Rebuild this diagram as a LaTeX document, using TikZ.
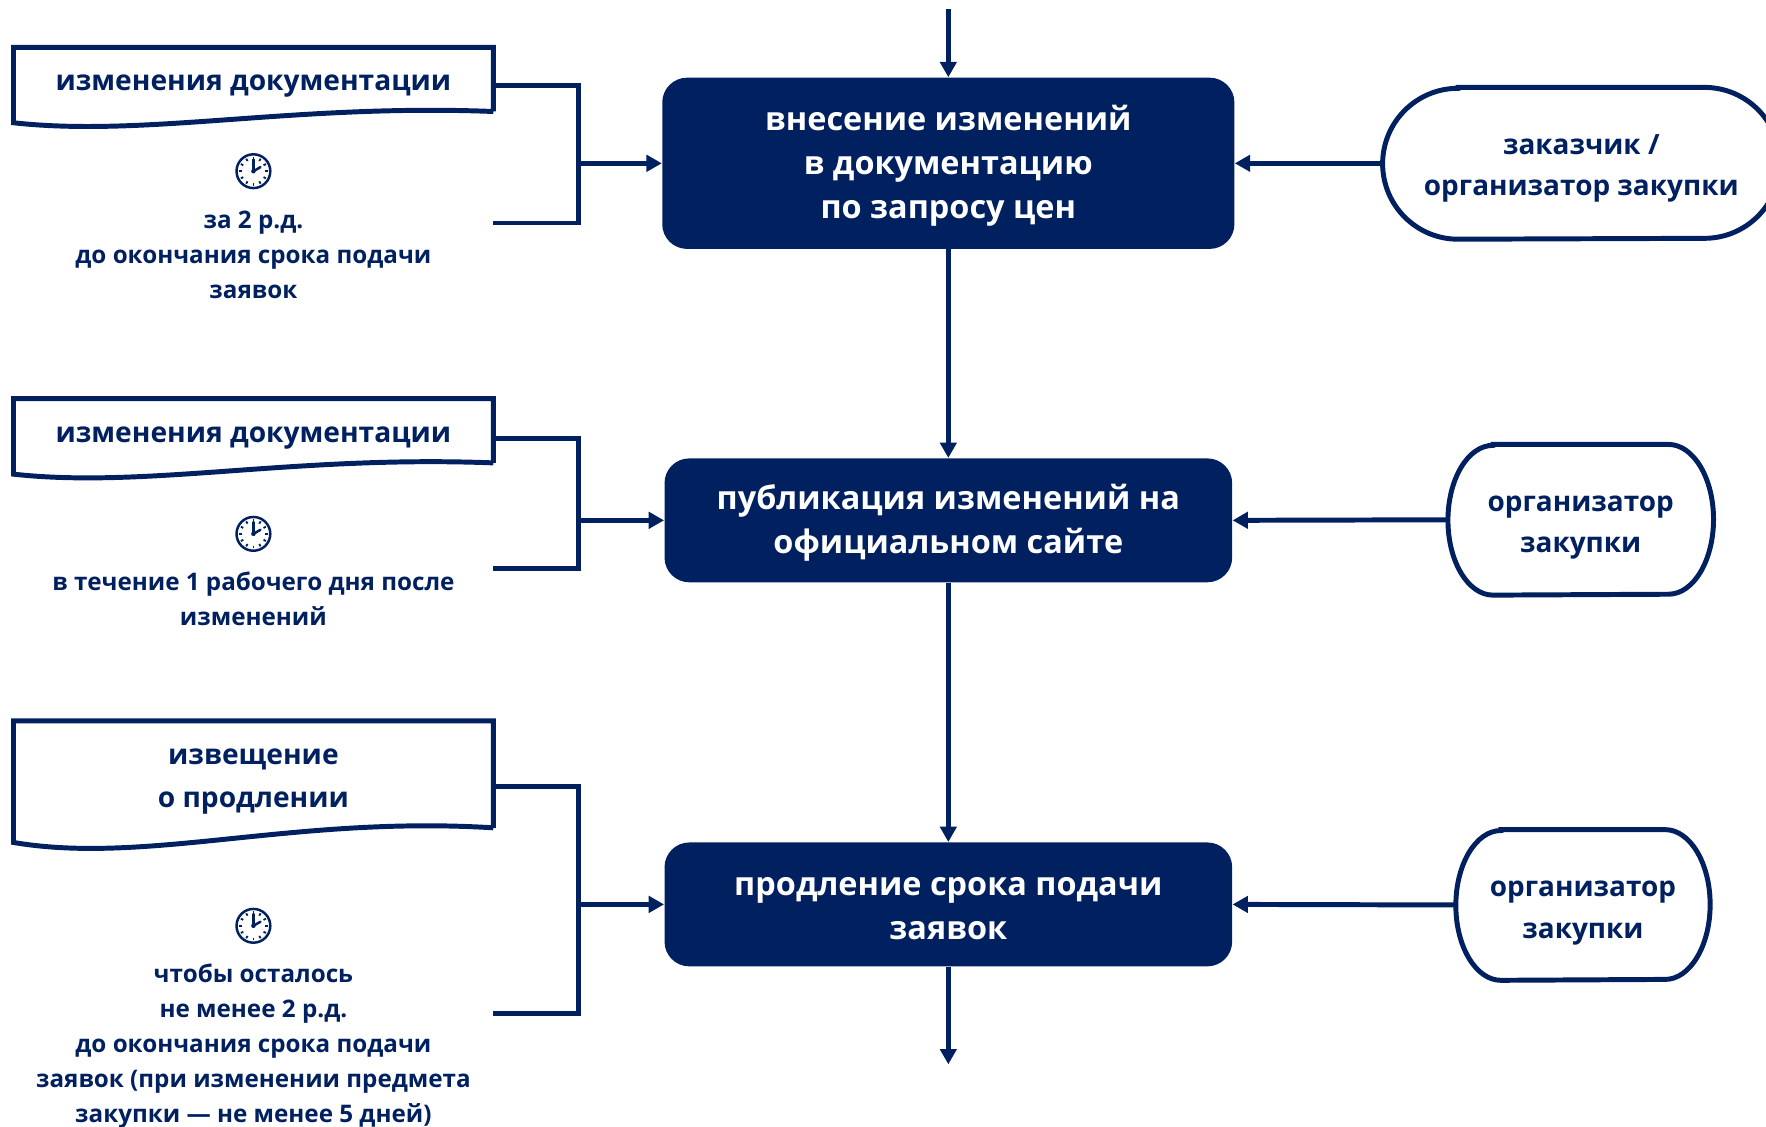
\documentclass[tikz,border=0pt]{standalone}
\usepackage{fontspec}
\setmainfont{Open Sans}
\usetikzlibrary{arrows.meta}
\definecolor{navy}{RGB}{0,32,96}
\newcommand\termshape[3]{% name, rx, ry
  \draw[lineS] ([xshift=#2]#1.north west) -- ([xshift=-#2]#1.north east)
    arc[start angle=90,end angle=-90,x radius=#2,y radius=#3]
    -- ([xshift=#2]#1.south west)
    arc[start angle=270,end angle=90,x radius=#2,y radius=#3] -- cycle;}
\begin{document}
\begin{tikzpicture}[x=0.5pt,y=0.5pt,
  lineS/.style={draw=navy, line width=2.2pt},
  arr/.style={lineS, -{Triangle[length=6.8pt,width=7.2pt]}},
  mainbox/.style={rectangle, rounded corners=11pt, fill=navy, inner sep=0pt},
  maintext/.style={text=white, align=center, inner sep=0pt,
    font=\bfseries\fontsize{14.4}{19.5}\selectfont},
  termbox/.style={rectangle, inner sep=0pt},
  termtext/.style={inner sep=0pt, text=navy, align=center,
    font=\bfseries\fontsize{12.4}{18.5}\selectfont},
  docbox/.style={rectangle, inner sep=0pt, minimum width=213pt},
  doctext/.style={inner sep=0pt, text=navy, align=center,
    font=\bfseries\fontsize{12.5}{19}\selectfont},
  note/.style={text=navy, align=center, inner sep=0pt,
    font=\bfseries\fontsize{10.75}{15.5}\selectfont},
  clock/.style={circle, draw=navy, line width=1.1pt, minimum size=15pt, inner sep=0pt},
  tick/.style={draw=navy, line width=0.8pt},
  hand/.style={draw=navy, line width=1.1pt, line cap=round}
]
\useasboundingbox (0,0) rectangle (1568,-1000);

% main process boxes
\node[mainbox, minimum width=254pt, minimum height=76pt] (m1) at (842,-145) {};
\node[maintext] (m1t) at ([yshift=-1.25pt]m1.center) {внесение изменений\\в документацию\\по запросу цен};
\node[mainbox, minimum width=252pt, minimum height=55pt] (m2) at (842,-462) {};
\node[maintext] (m2t) at ([yshift=-1.25pt]m2.center) {публикация изменений на\\официальном сайте};
\node[mainbox, minimum width=252pt, minimum height=55pt] (m3) at (842,-803) {};
\node[maintext] (m3t) at ([yshift=-1.75pt]m3.center) {продление срока подачи\\заявок};

\coordinate (top) at (842,-8);
\coordinate (bot) at (842,-945);
\draw[arr] (top) -- (m1.north);
\draw[arr] (m1.south) -- (m2.north);
\draw[arr] (m2.south) -- (m3.north);
\draw[arr] (m3.south) -- (bot);

% terminals
\node[termbox, minimum width=176pt, minimum height=67pt] (r1) at (1404,-145) {};
\termshape{r1}{33.5pt}{33.5pt}
\node[termtext] (r1t) at ([yshift=-2.2pt]r1.center) {заказчик /\\организатор закупки};
\node[termbox, minimum width=117.5pt, minimum height=66.5pt] (r2) at (1403.5,-461.5) {};
\termshape{r2}{20pt}{33.25pt}
\node[termtext] (r2t) at ([yshift=-3.5pt]r2.center) {организатор\\закупки};
\node[termbox, minimum width=112.5pt, minimum height=66.5pt] (r3) at (1405.5,-803.5) {};
\termshape{r3}{20pt}{33.25pt}
\node[termtext] (r3t) at ([yshift=-3.5pt]r3.center) {организатор\\закупки};
\draw[arr] (r1.west) -- (m1.east);
\draw[arr] (r2.west) -- (m2.east);
\draw[arr] (r3.west) -- (m3.east);

% documents
\node[docbox, minimum height=28.5pt] (d1) at (225,-70.5) {};
\node[doctext] (d1t) at ([yshift=-3pt]d1.center) {изменения документации};
\draw[lineS] (438,-99) -- (438,-42) -- (12,-42) -- (12,-109)
  .. controls (130,-122) and (260,-92) .. (438,-99);
\node[docbox, minimum height=28.5pt] (d2) at (225,-382.5) {};
\node[doctext] (d2t) at ([yshift=-3pt]d2.center) {изменения документации};
\draw[lineS] (438,-411) -- (438,-354) -- (12,-354) -- (12,-421)
  .. controls (130,-434) and (260,-404) .. (438,-411);
\node[docbox, minimum height=47.5pt] (d3) at (225,-687.5) {};
\node[doctext] (d3t) at ([yshift=-3.2pt]d3.center) {извещение\\о продлении};
\draw[lineS] (438,-735) -- (438,-640) -- (12,-640) -- (12,-748)
  .. controls (130,-768) and (260,-724) .. (438,-735);

% brackets
\coordinate (j1) at (514,-198); \coordinate (e1) at (438,-198); \coordinate (s1) at (514,-145);
\draw[lineS] ([yshift=-2.75pt]d1.east) -| (j1) -- (e1);
\draw[arr] (s1) -- (m1.west);
\coordinate (j2) at (514,-505); \coordinate (e2) at (438,-505); \coordinate (s2) at (514,-462);
\draw[lineS] ([yshift=-3.25pt]d2.east) -| (j2) -- (e2);
\draw[arr] (s2) -- (m2.west);
\coordinate (j3) at (514,-900); \coordinate (e3) at (438,-900); \coordinate (s3) at (514,-803);
\draw[lineS] ([yshift=-5.25pt]d3.east) -| (j3) -- (e3);
\draw[arr] (s3) -- (m3.west);

% clocks
\foreach \c/\y in {c1/152, c2/474, c3/822}{
  \node[clock] (\c) at (225,-\y) {};
  \foreach \a in {0,30,...,330}
    \draw[tick] ([shift={(\a:5.2pt)}]\c.center) -- ([shift={(\a:6.4pt)}]\c.center);
  \draw[hand] (\c.center) -- ++(0,5.2pt);
  \draw[hand] (\c.center) -- ++(30:3.6pt);
  \fill[navy] (\c.center) circle (1pt);
}

% notes
\node[note] (t1) at (225,-226) {за 2 р.д.\\до окончания срока подачи\\заявок};
\node[note] (t2) at (225,-532) {в течение 1 рабочего дня после\\изменений};
\node[note] (t3) at (225,-929) {чтобы осталось\\не менее 2 р.д.\\до окончания срока подачи\\заявок (при изменении предмета\\закупки — не менее 5 дней)};
\end{tikzpicture}
\end{document}
